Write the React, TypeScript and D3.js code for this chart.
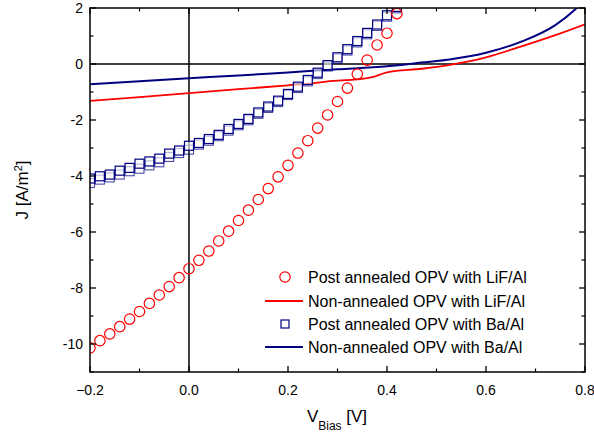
import React from "react";
import * as d3 from "d3";

const voltages = [-0.2,-0.18,-0.16,-0.14,-0.12,-0.1,-0.08,-0.06,-0.04,-0.02,0,0.02,0.04,0.06,0.08,0.1,0.12,0.14,0.16,0.18,0.2,0.22,0.24,0.26,0.28,0.3,0.32,0.34,0.36,0.38,0.4,0.42];
const lifPost = [-10.14,-9.88,-9.64,-9.38,-9.11,-8.84,-8.55,-8.25,-7.95,-7.63,-7.31,-7.01,-6.68,-6.32,-5.97,-5.59,-5.22,-4.84,-4.45,-4.03,-3.62,-3.18,-2.74,-2.29,-1.82,-1.34,-0.86,-0.36,0.14,0.68,1.1,1.8];
const baPostA = [-4.09,-4.01,-3.95,-3.81,-3.71,-3.56,-3.48,-3.38,-3.2,-3.09,-2.92,-2.82,-2.68,-2.53,-2.32,-2.14,-1.96,-1.73,-1.52,-1.31,-1.07,-0.81,-0.57,-0.31,-0.04,0.24,0.53,0.82,1.11,1.41,1.74,2.04];
const baPostB = [-4.25,-4.13,-4.05,-3.95,-3.83,-3.74,-3.62,-3.51,-3.32,-3.18,-3.06,-2.88,-2.74,-2.58,-2.38,-2.19,-2.01,-1.78,-1.57,-1.36,-1.11,-0.86,-0.62,-0.36,-0.09,0.19,0.48,0.77,1.06,1.36,1.69,1.99];

const lifNonV = [-0.2,0,0.1,0.2,0.25,0.28,0.34,0.37,0.4,0.47,0.53,0.6,0.67,0.74,0.8];
const lifNonJ = [-1.32,-1.04,-0.9,-0.76,-0.69,-0.62,-0.55,-0.47,-0.3,-0.17,-0.02,0.24,0.62,1.03,1.42];
const baNonV = [-0.2,0,0.1,0.2,0.3,0.4,0.47,0.53,0.6,0.67,0.74,0.78,0.8];
const baNonJ = [-0.72,-0.51,-0.41,-0.3,-0.19,-0.08,0.05,0.17,0.4,0.79,1.39,1.95,2.3];

const xTicks = [-0.2, 0, 0.2, 0.4, 0.6, 0.8];
const xMinor = [-0.1, 0.1, 0.3, 0.5, 0.7];
const yTicks = [-10, -8, -6, -4, -2, 0, 2];
const yMinor = [-11, -9, -7, -5, -3, -1, 1];
const legendLabels = [
  "Post annealed OPV with LiF/Al",
  "Non-annealed OPV with LiF/Al",
  "Post annealed OPV with Ba/Al",
  "Non-annealed OPV with Ba/Al",
];

const RED = "#ff0000";
const BLUE = "#000080";
const FONT = "'Liberation Sans', Arial, sans-serif";

export default function App() {
  const L = 90, R = 585, T = 8, B = 372;
  const x = d3.scaleLinear().domain([-0.2, 0.8]).range([L, R]);
  const y = d3.scaleLinear().domain([-11, 2]).range([B, T]);
  const line = d3.line<[number, number]>().x(d => x(d[0])).y(d => y(d[1])).curve(d3.curveMonotoneX);
  const redPts = lifNonV.map((v, i) => [v, lifNonJ[i]] as [number, number]);
  const bluePts = baNonV.map((v, i) => [v, baNonJ[i]] as [number, number]);
  const fmtX = (v: number) => (v === 0 ? "0.0" : d3.format(".1f")(v));
  const sq = 9;
  const legY = [277, 301, 324, 347];

  return (
    <svg width={594} height={439} style={{ position: "absolute", left: 0, top: 0, background: "#fff" }} fontFamily={FONT}>
      <defs>
        <clipPath id="plot">
          <rect x={L} y={T} width={R - L} height={B - T} />
        </clipPath>
      </defs>
      <line x1={L} x2={R} y1={y(0)} y2={y(0)} stroke="#000" strokeWidth={1.5} />
      <line x1={x(0)} x2={x(0)} y1={T} y2={B} stroke="#000" strokeWidth={1.5} />
      <g clipPath="url(#plot)">
        <path d={line(bluePts) || ""} fill="none" stroke={BLUE} strokeWidth={2} />
        <path d={line(redPts) || ""} fill="none" stroke={RED} strokeWidth={1.8} />
        {voltages.map((v, i) => (
          <rect key={"b" + i} x={x(v) - sq / 2} y={y(baPostB[i]) - sq / 2} width={sq} height={sq} fill="none" stroke={BLUE} strokeWidth={1.1} strokeOpacity={0.7} />
        ))}
        {voltages.map((v, i) => (
          <rect key={"a" + i} x={x(v) - sq / 2} y={y(baPostA[i]) - sq / 2} width={sq} height={sq} fill="#fff" fillOpacity={0.6} stroke={BLUE} strokeWidth={1.2} />
        ))}
        {voltages.map((v, i) => (
          <circle key={"c" + i} cx={x(v)} cy={y(lifPost[i])} r={5.2} fill="none" stroke={RED} strokeWidth={1.2} />
        ))}
      </g>
      <rect x={L} y={T} width={R - L} height={B - T} fill="none" stroke="#000" strokeWidth={1.5} />
      {xTicks.map(v => (
        <g key={"xt" + v}>
          <line x1={x(v)} x2={x(v)} y1={B} y2={B - 6} stroke="#000" strokeWidth={1.3} />
          <line x1={x(v)} x2={x(v)} y1={T} y2={T + 6} stroke="#000" strokeWidth={1.3} />
          <text x={x(v)} y={395} fontSize={14} textAnchor="middle">{fmtX(v)}</text>
        </g>
      ))}
      {xMinor.map(v => (
        <g key={"xm" + v}>
          <line x1={x(v)} x2={x(v)} y1={B} y2={B - 3.5} stroke="#000" strokeWidth={1.2} />
          <line x1={x(v)} x2={x(v)} y1={T} y2={T + 3.5} stroke="#000" strokeWidth={1.2} />
        </g>
      ))}
      {yTicks.map(v => (
        <g key={"yt" + v}>
          <line x1={L} x2={L + 6} y1={y(v)} y2={y(v)} stroke="#000" strokeWidth={1.3} />
          <line x1={R} x2={R - 6} y1={y(v)} y2={y(v)} stroke="#000" strokeWidth={1.3} />
          <text x={83} y={y(v) + 5} fontSize={14} textAnchor="end">{v}</text>
        </g>
      ))}
      {yMinor.map(v => (
        <g key={"ym" + v}>
          <line x1={L} x2={L + 3.5} y1={y(v)} y2={y(v)} stroke="#000" strokeWidth={1.2} />
          <line x1={R} x2={R - 3.5} y1={y(v)} y2={y(v)} stroke="#000" strokeWidth={1.2} />
        </g>
      ))}
      <text transform={`translate(28,${(T + B) / 2}) rotate(-90)`} fontSize={17} textAnchor="middle">
        J [A/m<tspan dy={-6} fontSize={11}>2</tspan><tspan dy={6}>]</tspan>
      </text>
      <text x={337} y={422} fontSize={17} textAnchor="middle">
        V<tspan dy={8} fontSize={12}>Bias</tspan><tspan dy={-8}> [V]</tspan>
      </text>
      <circle cx={285} cy={legY[0]} r={5.2} fill="none" stroke={RED} strokeWidth={1.2} />
      <line x1={265} x2={303} y1={legY[1]} y2={legY[1]} stroke={RED} strokeWidth={1.8} />
      <rect x={285 - 4} y={legY[2] - 4} width={8} height={8} fill="none" stroke={BLUE} strokeWidth={1.2} />
      <line x1={265} x2={303} y1={legY[3]} y2={legY[3]} stroke={BLUE} strokeWidth={2} />
      {legendLabels.map((t, i) => (
        <text key={t} x={308} y={legY[i] + 6} fontSize={16}>{t}</text>
      ))}
    </svg>
  );
}
